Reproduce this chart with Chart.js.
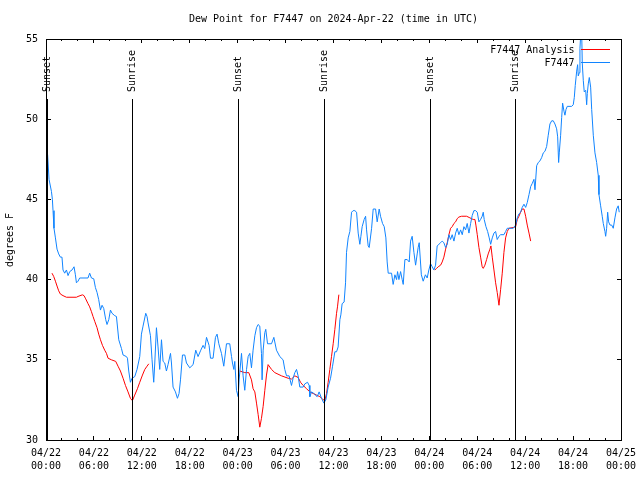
<!DOCTYPE html>
<html>
<head>
<meta charset="utf-8">
<script src="https://cdn.jsdelivr.net/npm/chart.js@4/dist/chart.umd.min.js"></script>
<style>
html,body{margin:0;padding:0;background:#fff;}
#wrap{width:640px;height:480px;}
</style>
</head>
<body>
<div id="wrap"><canvas id="c" width="640" height="480"></canvas></div>
<script>
// ---- data (hours since 2024-04-22 00:00 UTC, dew point in °F) ----
const titleText = 'Dew Point for F7447 on 2024-Apr-22 (time in UTC)';
const yAxisTitle = 'degrees F';
const seriesNames = ['F7447 Analysis', 'F7447'];
const xTickLabels = [
  ['04/22','00:00'],['04/22','06:00'],['04/22','12:00'],['04/22','18:00'],
  ['04/23','00:00'],['04/23','06:00'],['04/23','12:00'],['04/23','18:00'],
  ['04/24','00:00'],['04/24','06:00'],['04/24','12:00'],['04/24','18:00'],
  ['04/25','00:00']
];
const sunsetHours = [0.16, 24.08, 48.17];
const sunriseHours = [10.81, 34.85, 58.82];

const obsTimes = [0.2,0.38,0.68,0.80,0.88,1.00,1.18,1.38,1.59,1.80,2.00,2.13,2.34,2.56,2.76,2.97,3.26,3.51,3.68,3.81,4.01,4.22,5.26,5.47,5.69,5.98,6.19,6.39,6.60,6.82,7.02,7.23,7.48,7.64,7.86,8.07,8.27,8.61,8.82,9.11,9.45,9.65,10.07,10.20,10.36,10.57,10.77,11.11,11.40,11.74,11.95,12.15,12.49,12.65,12.78,13.08,13.28,13.49,13.62,13.83,14.03,14.24,14.46,14.66,14.87,15.08,15.28,15.59,15.71,15.91,16.21,16.46,16.66,16.84,17.09,17.38,17.59,18.00,18.42,18.75,19.04,19.38,19.67,19.88,20.10,20.42,20.60,20.92,21.22,21.42,21.64,21.97,22.26,22.60,23.01,23.23,23.35,23.52,23.64,23.85,24.06,24.19,24.48,24.68,24.89,25.11,25.31,25.52,25.73,25.93,26.15,26.36,26.56,26.77,26.98,27.06,27.19,27.40,27.52,27.74,28.24,28.53,28.86,29.28,29.69,29.90,30.12,30.44,30.74,30.94,31.16,31.37,31.57,31.78,32.20,32.41,32.75,32.95,33.04,33.25,33.54,33.95,34.20,34.50,34.79,35.04,35.33,35.63,35.88,36.17,36.38,36.58,36.80,36.92,37.08,37.33,37.51,37.63,37.84,38.05,38.26,38.46,38.67,38.89,39.09,39.30,39.43,39.59,39.84,40.02,40.14,40.34,40.47,40.77,40.97,41.27,41.47,41.72,41.89,42.14,42.35,42.56,42.72,42.85,43.27,43.47,43.69,43.90,44.02,44.19,44.40,44.60,44.73,44.94,45.23,45.48,45.65,45.85,46.07,46.28,46.48,46.60,46.73,47.00,47.23,47.51,47.73,47.94,48.15,48.36,48.57,48.78,48.98,49.20,49.41,49.61,49.82,50.04,50.24,50.45,50.66,50.86,51.08,51.29,51.49,51.70,51.92,52.12,52.33,52.54,52.74,52.96,53.17,53.37,53.58,53.80,54.00,54.21,54.42,54.62,54.75,54.87,55.09,55.30,55.50,55.68,55.88,56.09,56.30,56.50,56.72,56.93,57.34,57.55,57.76,58.51,58.81,59.01,59.22,59.43,59.63,59.85,60.06,60.26,60.48,60.69,60.89,61.10,61.23,61.44,61.64,61.85,62.06,62.27,62.48,62.69,62.89,63.10,63.32,63.52,63.73,63.94,64.07,64.19,64.27,64.44,64.57,64.69,64.86,64.98,65.11,65.27,65.82,66.02,66.15,66.27,66.45,66.57,66.65,66.78,66.86,66.99,67.07,67.15,67.28,67.40,67.58,67.70,67.78,67.90,68.03,68.20,68.33,68.53,68.74,68.95,69.15,69.24,69.45,69.65,69.78,69.99,70.08,70.20,70.33,70.45,70.62,70.83,71.03,71.24,71.45,71.65,71.78];
const obsDew = [47.8,46.25,45.5,45.0,44.3,43.2,42.6,41.9,41.6,41.4,41.4,40.6,40.4,40.6,40.25,40.5,40.6,40.8,40.3,39.8,39.9,40.1,40.1,40.4,40.1,40.05,39.5,39.2,38.75,38.1,38.4,38.2,37.5,37.2,37.5,38.1,37.9,37.75,37.7,36.25,35.7,35.3,35.2,35.1,34.3,33.6,33.85,33.95,34.4,35.2,36.6,37.1,37.9,37.7,37.3,36.5,35.0,33.6,34.8,37.0,35.8,34.4,36.25,34.9,34.8,34.3,34.7,35.4,34.8,33.3,33.0,32.6,32.9,33.75,35.3,35.3,34.8,34.5,34.7,35.6,35.2,35.6,35.9,35.7,36.4,35.9,35.1,35.1,36.4,36.6,36.0,35.4,34.6,36.0,36.0,35.2,34.8,34.4,34.9,33.1,32.7,33.8,35.4,34.0,33.1,34.4,35.2,35.4,34.5,35.6,36.5,37.0,37.2,37.1,35.4,33.75,35.6,36.7,36.9,36.0,36.0,36.4,35.6,35.2,35.0,34.4,34.0,34.0,33.4,33.85,34.2,34.4,34.0,33.3,33.3,33.5,33.6,33.4,32.7,33.0,32.9,32.7,33.0,32.6,32.3,32.5,33.3,33.85,34.6,35.5,35.5,35.8,37.5,37.8,38.5,38.6,39.8,41.7,42.6,43.0,44.2,44.3,44.3,44.2,42.9,42.2,42.7,43.3,43.75,43.95,43.1,42.1,42.0,43.2,44.4,44.4,43.6,44.4,43.95,43.5,43.3,42.6,41.1,40.4,40.4,39.7,40.3,40.0,40.5,40.0,40.5,40.0,39.7,41.25,41.25,41.1,42.4,42.7,41.7,40.9,41.6,42.0,42.3,40.3,39.9,40.3,40.1,40.6,41.0,40.8,40.6,40.9,42.1,42.2,42.3,42.4,42.3,42.0,42.2,42.8,42.5,42.8,42.4,42.9,43.2,42.8,43.1,42.8,43.3,43.1,43.5,42.9,43.5,44.0,44.3,44.3,44.2,43.6,43.75,43.95,44.2,43.75,43.3,43.0,42.6,42.2,42.6,42.9,43.0,42.5,42.7,42.8,42.8,43.0,43.2,43.2,43.4,43.85,44.1,44.2,44.5,44.7,44.5,44.8,45.3,45.8,46.0,46.25,45.6,47.1,47.3,47.4,47.6,47.9,48.0,48.3,49.0,49.7,49.9,49.9,49.7,49.4,48.9,47.3,47.9,49.0,50.1,51.0,50.5,50.25,50.6,50.8,50.8,50.9,51.35,52.1,53.0,53.4,52.7,52.9,54.4,55.6,55.6,53.5,52.4,51.7,51.8,50.9,51.6,52.2,52.6,52.0,50.6,49.0,47.9,47.3,46.5,45.3,44.6,43.95,43.5,43.0,42.7,43.2,44.2,43.6,43.4,43.4,43.2,43.85,44.4,44.6,44.2];

const anaTimes = [0.75,0.96,1.18,1.38,1.59,1.80,2.13,2.56,3.81,4.01,4.56,4.76,4.97,5.26,5.47,5.69,5.89,6.10,6.39,6.60,6.82,7.07,7.35,7.57,7.77,8.19,8.73,9.02,9.32,9.65,9.95,10.27,10.57,10.82,11.11,11.45,11.74,12.08,12.37,12.65,12.87,
  12.9,
  24.27,24.89,25.39,25.73,25.93,26.15,26.36,26.56,26.77,26.98,27.19,27.40,27.61,27.81,28.24,28.65,29.49,30.32,30.74,31.16,31.57,31.87,32.20,32.62,33.04,33.45,33.88,34.29,34.63,34.91,35.13,35.33,35.54,35.75,35.96,36.17,36.38,36.50,36.67,
  36.7,
  48.69,48.91,49.11,49.41,49.61,49.82,50.04,50.24,50.45,50.66,50.86,51.08,51.29,51.49,51.70,52.04,52.67,53.08,53.49,53.71,53.83,54.00,54.21,54.42,54.62,54.75,54.96,55.17,55.37,55.59,55.71,55.88,56.09,56.30,56.50,56.72,56.93,57.13,57.34,57.55,57.76,57.97,58.51,58.81,59.01,59.22,59.43,59.63,59.85,60.06,60.26,60.48,60.69];
const anaDew = [40.4,40.2,39.9,39.6,39.3,39.1,39.0,38.9,38.9,38.95,39.05,39.0,38.8,38.5,38.3,38.0,37.7,37.4,37.0,36.6,36.25,35.9,35.6,35.4,35.1,35.0,34.9,34.6,34.3,33.85,33.4,33.0,32.6,32.45,32.8,33.2,33.6,34.05,34.4,34.6,34.75,
  null,
  34.3,34.2,34.2,33.75,33.2,33.0,32.3,31.6,30.8,31.35,32.1,33.1,34.05,34.7,34.4,34.2,34.0,33.85,33.8,34.0,33.9,33.6,33.4,33.2,33.0,32.9,32.8,32.7,32.55,32.45,32.9,33.6,34.4,35.2,36.0,36.9,37.9,38.3,39.06,
  null,
  40.6,40.7,40.8,40.9,41.1,41.4,41.9,42.3,42.8,43.2,43.3,43.5,43.6,43.8,43.9,43.95,43.95,43.85,43.75,43.75,43.4,42.8,42.0,41.4,40.8,40.7,40.9,41.25,41.6,41.9,42.1,41.4,40.6,39.8,39.2,38.4,39.4,40.4,41.7,42.6,43.0,43.2,43.25,43.3,43.75,43.95,44.2,44.4,44.4,43.95,43.4,42.9,42.4];

const yTicks = [30,35,40,45,50,55];

// ---- styling ----
const FONT = 'DejaVu Sans Mono';
const RED = '#ff0000';
const BLUE = '#1084ff';

const toPts = (xs, ys) => xs.map((x, i) => ({x: x, y: ys[i]}));

const framePlugin = {
  id: 'gnuframe',
  afterDraw(chart) {
    const ctx = chart.ctx;
    const a = chart.chartArea;
    const xs = chart.scales.x, ys = chart.scales.y;
    ctx.save();
    ctx.strokeStyle = '#000';
    ctx.lineWidth = 1;
    // sunrise / sunset lines
    const drawSun = (h, label) => {
      const px = Math.floor(xs.getPixelForValue(h)) + 0.5;
      ctx.beginPath();
      ctx.moveTo(px, 99);
      ctx.lineTo(px, a.bottom);
      ctx.stroke();
      ctx.save();
      ctx.translate(px, 92);
      ctx.rotate(-Math.PI / 2);
      ctx.fillStyle = '#000';
      ctx.font = '10px "' + FONT + '"';
      ctx.textAlign = 'left';
      ctx.textBaseline = 'middle';
      ctx.fillText(label, 0, 0);
      ctx.restore();
    };
    sunsetHours.forEach(h => drawSun(h, 'Sunset'));
    sunriseHours.forEach(h => drawSun(h, 'Sunrise'));

    // frame
    ctx.beginPath();
    ctx.rect(a.left + 0.5, a.top + 0.5, a.right - a.left, a.bottom - a.top);
    ctx.stroke();
    // x ticks (inward, top and bottom)
    ctx.beginPath();
    for (let h = 0; h <= 72; h += 2) {
      const px = Math.floor(xs.getPixelForValue(h)) + 0.5;
      const len = (h % 6 === 0) ? 4 : 2;
      ctx.moveTo(px, a.bottom);
      ctx.lineTo(px, a.bottom - len);
      ctx.moveTo(px, a.top);
      ctx.lineTo(px, a.top + len);
    }
    yTicks.forEach(v => {
      const py = Math.floor(ys.getPixelForValue(v)) + 0.5;
      ctx.moveTo(a.left, py);
      ctx.lineTo(a.left + 5, py);
      ctx.moveTo(a.right + 1, py);
      ctx.lineTo(a.right - 4, py);
    });
    ctx.stroke();

    // title
    ctx.fillStyle = '#000';
    ctx.font = '10px "' + FONT + '"';
    ctx.textAlign = 'center';
    ctx.textBaseline = 'middle';
    ctx.fillText(titleText, (a.left + a.right) / 2, 19);
    // y title
    ctx.save();
    ctx.translate(10, 240);
    ctx.rotate(-Math.PI / 2);
    ctx.fillText(yAxisTitle, 0, 0);
    ctx.restore();

    // legend
    ctx.textAlign = 'right';
    const legY = [50, 63];
    const legColors = [RED, BLUE];
    seriesNames.forEach((n, i) => {
      ctx.fillStyle = '#000';
      ctx.fillText(n, 574.5, legY[i]);
      ctx.strokeStyle = legColors[i];
      ctx.beginPath();
      ctx.moveTo(581, legY[i] - 0.5);
      ctx.lineTo(610, legY[i] - 0.5);
      ctx.stroke();
    });
    ctx.restore();
  }
};

new Chart(document.getElementById('c'), {
  type: 'line',
  data: {
    datasets: [
      {
        label: seriesNames[1],
        data: toPts(obsTimes, obsDew),
        borderColor: BLUE,
        borderWidth: 1,
        pointRadius: 0,
        tension: 0,
        fill: false
      },
      {
        label: seriesNames[0],
        data: toPts(anaTimes, anaDew),
        borderColor: RED,
        borderWidth: 1,
        pointRadius: 0,
        tension: 0,
        spanGaps: false,
        fill: false
      }
    ]
  },
  options: {
    responsive: false,
    animation: false,
    events: [],
    layout: { padding: { top: 39, right: 19, left: 0, bottom: 0 } },
    plugins: { legend: { display: false }, title: { display: false }, tooltip: { enabled: false } },
    scales: {
      x: {
        type: 'linear',
        min: 0, max: 72,
        afterFit(s) { s.height = 40; s.paddingLeft = 0; s.paddingRight = 0; },
        grid: { display: false, drawTicks: false },
        border: { display: false },
        ticks: {
          stepSize: 6,
          autoSkip: false,
          maxRotation: 0,
          padding: 7,
          color: '#000',
          font: { family: FONT, size: 10, lineHeight: 1.3 },
          callback: (v) => xTickLabels[Math.round(v / 6)]
        }
      },
      y: {
        min: 30, max: 55,
        afterFit(s) { s.width = 46; s.paddingTop = 0; s.paddingBottom = 0; },
        afterBuildTicks(s) { s.ticks = yTicks.map(v => ({value: v})); },
        grid: { display: false, drawTicks: false },
        border: { display: false },
        ticks: {
          padding: 8,
          color: '#000',
          font: { family: FONT, size: 10 },
          callback: (v) => String(v)
        }
      }
    }
  },
  plugins: [framePlugin]
});
</script>
</body>
</html>
